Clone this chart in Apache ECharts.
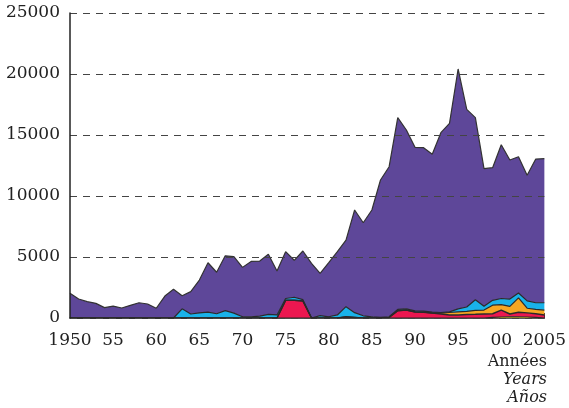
<!DOCTYPE html>
<html>
<head>
<meta charset="utf-8">
<script src="https://cdn.jsdelivr.net/npm/echarts@6/dist/echarts.min.js"></script>
<style>
  html, body { margin: 0; padding: 0; background: #fff; }
  #chart { width: 569px; height: 408px; }
</style>
</head>
<body>
<div id="chart"></div>
<script>
// years 1950 - 2005
const years = [];
for (let y = 1950; y <= 2005; y++) years.push(String(y));

// layers, bottom to top
const yellowValues = [
  0, 0, 0, 0, 0, 0, 0, 0, 0, 0,
  0, 0, 0, 0, 0, 0, 0, 0, 0, 0,
  0, 0, 0, 0, 0, 0, 0, 0, 0, 0,
  0, 0, 0, 0, 0, 0, 0, 0, 0, 0,
  0, 0, 0, 0, 0, 0, 0, 0, 0, 50,
  80, 100, 100, 80, 50, 0
];
const redValues = [
  0, 0, 0, 0, 0, 0, 0, 0, 0, 0,
  0, 0, 0, 0, 0, 0, 0, 0, 0, 0,
  0, 0, 0, 0, 0, 1450, 1450, 1400, 0, 0,
  0, 0, 100, 50, 0, 0, 0, 50, 600, 650,
  500, 480, 400, 330, 250, 250, 280, 300, 330, 300,
  570, 230, 380, 340, 300, 250
];
const orangeValues = [
  0, 0, 0, 0, 0, 0, 0, 0, 0, 0,
  0, 0, 0, 0, 0, 0, 0, 0, 0, 0,
  0, 0, 0, 0, 0, 0, 0, 0, 0, 0,
  0, 0, 0, 0, 0, 0, 0, 0, 0, 0,
  0, 0, 0, 70, 200, 250, 270, 320, 320, 700,
  450, 620, 1170, 380, 350, 400
];
const cyanValues = [
  0, 0, 0, 0, 0, 0, 0, 0, 0, 0,
  0, 0, 0, 750, 330, 420, 480, 350, 600, 400,
  100, 100, 150, 300, 250, 150, 250, 100, 0, 190,
  100, 250, 830, 390, 180, 100, 50, 50, 100, 100,
  80, 80, 80, 50, 50, 250, 350, 880, 310, 400,
  500, 600, 400, 600, 550, 600
];
const purpleValues = [
  2030, 1560, 1340, 1200, 850, 980, 820, 1040, 1250, 1150,
  800, 1800, 2350, 1080, 1830, 2690, 4050, 3400, 4500, 4630,
  4050, 4540, 4520, 4920, 3600, 3840, 3030, 3990, 4480, 3470,
  4440, 5190, 5460, 8410, 7630, 8750, 11260, 12300, 15720, 14660,
  13410, 13400, 12940, 14740, 15460, 19660, 16200, 14920, 11280, 10870,
  12600, 11400, 11170, 10300, 11780, 11810
];

const yMax = 25000;
const yStep = 5000;

const chart = echarts.init(document.getElementById("chart"));

function layer(name, data, color, lineColor, lineWidth) {
  return {
    name: name,
    type: "line",
    stack: "total",
    data: data,
    symbol: "none",
    lineStyle: { color: lineColor, width: lineWidth },
    areaStyle: { color: color, opacity: 1 },
    itemStyle: { color: color },
  };
}

const labelFont = "DejaVu Serif";

const option = {
  animation: false,
  grid: { left: 70, right: 21, top: 13, bottom: 90 },
  xAxis: {
    type: "category",
    data: years,
    boundaryGap: false,
    axisLine: { lineStyle: { color: "#222", width: 1.5 } },
    axisTick: {
      inside: true,
      length: 5,
      lineStyle: { color: "#222" },
      interval: (i, v) => (Number(v) - 1950) % 5 === 0,
    },
    axisLabel: {
      interval: (i, v) => (Number(v) - 1950) % 5 === 0,
      margin: 14,
      color: "#222",
      fontFamily: labelFont,
      fontSize: 17,
      formatter: (v) => (v === "1950" || v === "2005" ? v : v.slice(2)),
    },
  },
  yAxis: {
    type: "value",
    min: 0,
    max: yMax,
    interval: yStep,
    z: 5,
    axisLine: { show: true, lineStyle: { color: "#222", width: 1.5 } },
    axisTick: { show: false },
    axisLabel: {
      margin: 10,
      color: "#222",
      fontFamily: labelFont,
      fontSize: 17,
      formatter: (v) => String(v),
    },
    splitLine: {
      lineStyle: { color: "#444", type: [7, 6], width: 1 },
    },
  },
  graphic: [
    {
      type: "text", right: 22, top: 354,
      style: { text: "Années", font: "16px DejaVu Serif", fill: "#222", textAlign: "right" },
    },
    {
      type: "text", right: 22, top: 372,
      style: { text: "Years", font: "italic 16px DejaVu Serif", fill: "#222", textAlign: "right" },
    },
    {
      type: "text", right: 22, top: 390,
      style: { text: "Años", font: "italic 16px DejaVu Serif", fill: "#222", textAlign: "right" },
    },
  ],
  series: [
    layer("yellow", yellowValues, "#E3D21C", "#2a2a2a", 1.2),
    layer("red", redValues, "#EC1750", "#2a2a2a", 1.5),
    layer("orange", orangeValues, "#F6A623", "#2a2a2a", 1.2),
    layer("cyan", cyanValues, "#19B2EA", "#2a2a2a", 1.2),
    layer("purple", purpleValues, "#5E4799", "#333", 1.2),
  ],
};

chart.setOption(option);
</script>
</body>
</html>
